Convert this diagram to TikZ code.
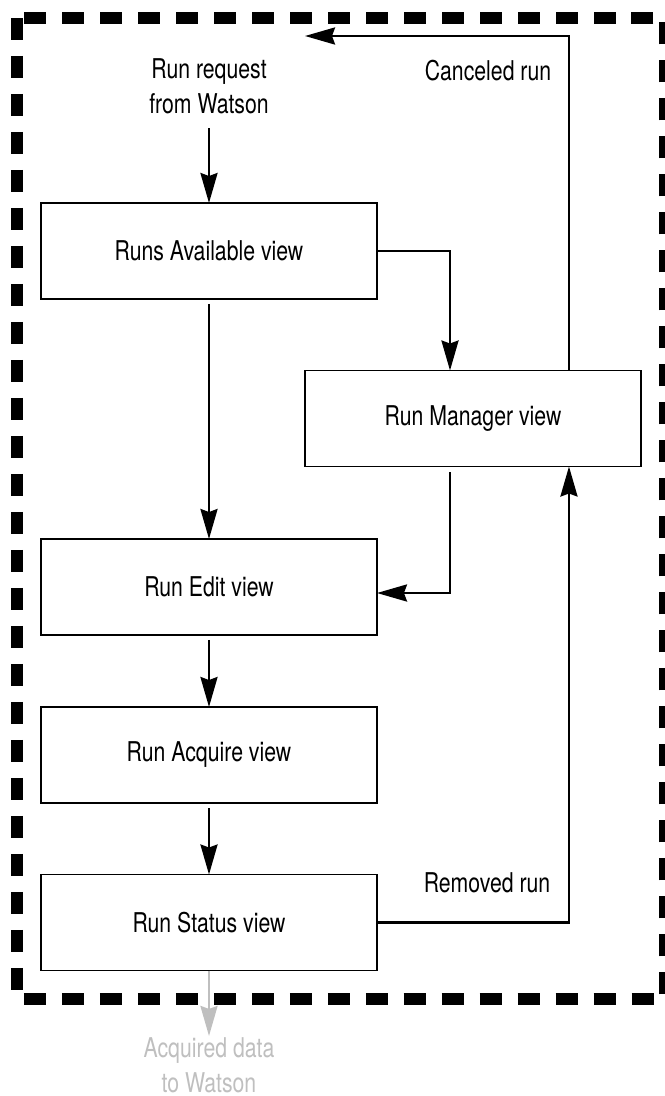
\documentclass[tikz,border=0pt]{standalone}
\usepackage{fontspec}
\setmainfont{TeX Gyre Heros}[FakeStretch=0.78]
\usepackage{tikz}
\usetikzlibrary{arrows.meta, positioning, calc}
\definecolor{flowgray}{HTML}{BFBFBF}

\begin{document}
\begin{tikzpicture}[
        x=0.02cm, y=-0.02cm,
        box/.style={draw, line width=0.9pt, minimum width=6.72cm, minimum height=1.92cm, inner sep=0pt, outer sep=0pt, font=\fontsize{15.5}{20}\selectfont},
        txt/.style={align=center, inner sep=0pt, font=\fontsize{15.5}{20}\selectfont},
        arrow/.style={-{Stealth[length=0.6cm, width=0.34cm, inset=0.06cm]}, line width=1.5pt},
        frame/.style={line width=0.24cm, dash pattern=on 0.44cm off 0.32cm}
    ]
    \useasboundingbox (0,0) rectangle (664,1096);
    \draw [frame] (17,18) rectangle (665,999);

    \node (request) [txt] at (209,86) {Run request\\from Watson};
    \node (avail) [box] at (209,251) {Runs Available view};
    \node (manager) [box] at (473,418.5) {Run Manager view};
    \node (edit) [box] at (209,587) {Run Edit view};
    \node (acquire) [box] at (209,755) {Run Acquire view};
    \node (status) [box] at (209,922.5) {Run Status view};
    \node (canceled) [txt] at (488,71) {Canceled run};
    \node (removed) [txt] at (487,883) {Removed run};
    \node (acquired) [txt, text=flowgray] at (209,1065) {Acquired data\\to Watson};
    \coordinate (cancelend) at (305,36);

    \draw [arrow, shorten <=0.28cm] (request) -- (avail);
    \draw [arrow] (avail.east) -| ([xshift=-0.46cm]manager.north);
    \draw [arrow, shorten <=0.1cm] (avail) -- (edit);
    \draw [arrow, shorten <=0.12cm] ([xshift=-0.46cm]manager.south) |- ([yshift=-0.12cm]edit.east);
    \draw [arrow, shorten <=0.1cm] (edit) -- (acquire);
    \draw [arrow, shorten <=0.1cm] (acquire) -- (status);
    \draw [arrow] (status.east) -| ([xshift=1.92cm]manager.south);
    \draw [arrow] ([xshift=1.92cm]manager.north) |- (cancelend);
    \draw [arrow, flowgray, shorten >=0.02cm] (status) -- (acquired);
\end{tikzpicture}
\end{document}
